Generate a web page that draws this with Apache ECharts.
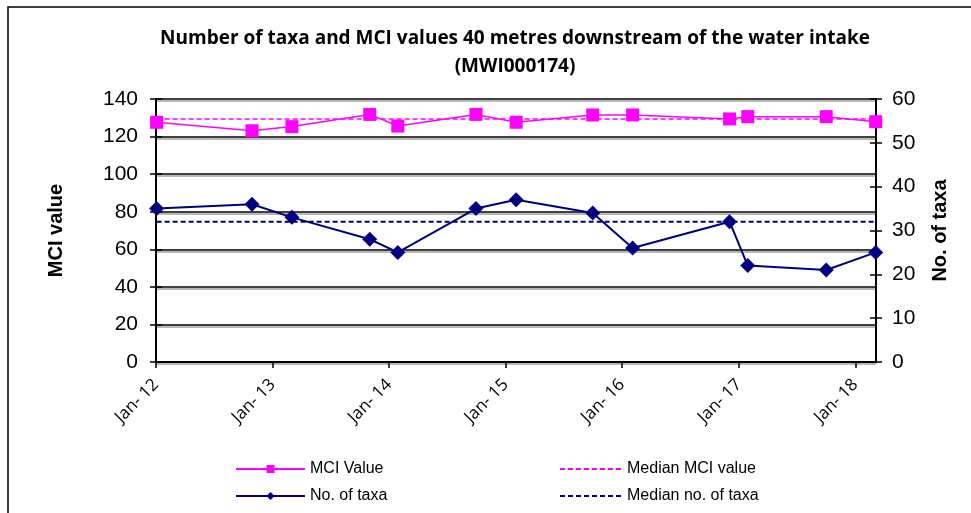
<!DOCTYPE html>
<html>
<head>
<meta charset="utf-8">
<script src="https://cdn.jsdelivr.net/npm/echarts@6/dist/echarts.min.js"></script>
<style>
html,body{margin:0;padding:0;background:#fff;}
#c{width:971px;height:513px;}
</style>
</head>
<body>
<div id="c"></div>
<script>
const sampleDates = ['2012-01-03','2012-10-28','2013-03-02','2013-11-01','2014-01-28','2014-09-30','2015-02-03','2015-10-01','2016-02-03','2016-12-03','2017-01-29','2017-10-02','2018-03-06'];
const mciValues = [127.6,123.1,125.3,131.8,125.6,131.8,127.6,131.5,131.5,129.4,130.6,130.6,127.9];
const taxaValues = [35,36,33,28,25,35,37,34,26,32,22,21,25];
const medianMCI = 129.4;
const medianTaxa = 32;
const mciTicks = [0,20,40,60,80,100,120,140];
const taxaTicks = [0,10,20,30,40,50,60];
const xMin = '2012-01-01';
const xMax = '2018-03-07';

const chart = echarts.init(document.getElementById('c'));
const pair = (vals) => sampleDates.map((d,i)=>[d, vals[i]]);
const constPair = (v) => sampleDates.map(d=>[d, v]);
const tickFont = {fontFamily:'Liberation Sans', fontSize:21, color:'#000'};
const legendText = {fontFamily:'Liberation Sans', fontSize:16, lineHeight:16, color:'#000'};

chart.setOption({
  animation:false,
  backgroundColor:'#fff',
  graphic:[{type:'polyline', shape:{points:[[8,513],[8,7],[971,7]]}, style:{stroke:'#000', lineWidth:1.5, fill:null}}],
  title:{
    text:'Number of taxa and MCI values 40 metres downstream of the water intake\n(MWI000174)',
    left:510, top:20, textAlign:'center',
    textStyle:{fontFamily:'Open Sans', fontWeight:'bold', fontSize:19, lineHeight:28, color:'#000'}
  },
  grid:{left:156, right:95, top:99, bottom:151},
  legend:[
    {data:['MCI Value','No. of taxa'], orient:'vertical', left:230, top:456, itemWidth:69, itemHeight:10, itemGap:11,
     textStyle:legendText},
    {data:[{name:'Median MCI value', itemStyle:{opacity:0}},{name:'Median no. of taxa', itemStyle:{opacity:0}}], orient:'vertical', left:554, top:456, itemWidth:62, itemHeight:10, itemGap:11,
     textStyle:legendText}
  ],
  xAxis:{
    type:'time', min:xMin, max:xMax, splitNumber:6,
    axisLine:{lineStyle:{color:'#000', width:2}},
    axisTick:{show:true, length:6, lineStyle:{color:'#000', width:1.5}},
    splitLine:{show:false},
    axisLabel:{rotate:45, margin:20, fontFamily:'Open Sans', fontSize:17, color:'#000', showMaxLabel:false,
      formatter:(v)=>'Jan- ' + String(new Date(v).getFullYear()).slice(2)}
  },
  yAxis:[
    {type:'value', min:mciTicks[0], max:mciTicks[mciTicks.length-1], interval:20, position:'left',
     name:'MCI value', nameLocation:'middle', nameGap:90, nameRotate:90,
     nameTextStyle:{fontFamily:'Liberation Sans', fontWeight:'bold', fontSize:20, color:'#000'},
     axisLine:{show:true, lineStyle:{color:'#000', width:2}},
     axisTick:{show:true, length:6, lineStyle:{color:'#000', width:1.5}},
     axisLabel:Object.assign({margin:18}, tickFont),
     splitLine:{show:true, lineStyle:{color:'#000', width:1.5, shadowColor:'#a0a0a0', shadowOffsetY:2, shadowBlur:0}}},
    {type:'value', min:taxaTicks[0], max:taxaTicks[taxaTicks.length-1], interval:10, position:'right',
     name:'No. of taxa', nameLocation:'middle', nameGap:54, nameRotate:90,
     nameTextStyle:{fontFamily:'Liberation Sans', fontWeight:'bold', fontSize:20, color:'#000'},
     axisLine:{show:true, lineStyle:{color:'#000', width:2}},
     axisTick:{show:true, length:6, lineStyle:{color:'#000', width:1.5}},
     axisLabel:Object.assign({margin:16}, tickFont),
     splitLine:{show:false}},
    {type:'value', min:0, max:140, interval:20, position:'left', axisLine:{show:false},
     axisTick:{show:true, inside:true, length:6, lineStyle:{color:'#000', width:1.5}}, axisLabel:{show:false}, splitLine:{show:false}},
    {type:'value', min:0, max:60, interval:10, position:'right', axisLine:{show:false},
     axisTick:{show:true, inside:true, length:6, lineStyle:{color:'#000', width:1.5}}, axisLabel:{show:false}, splitLine:{show:false}}
  ],
  series:[
    {name:'Median MCI value', type:'line', yAxisIndex:0, data:constPair(medianMCI), symbol:'none',
     lineStyle:{color:'#ff00ff', width:1.5, type:[5,3]}, itemStyle:{color:'#ff00ff'}, z:2},
    {name:'Median no. of taxa', type:'line', yAxisIndex:1, data:constPair(medianTaxa), symbol:'none',
     lineStyle:{color:'#000080', width:1.8, type:[5,3]}, itemStyle:{color:'#000080'}, z:2},
    {name:'MCI Value', type:'line', yAxisIndex:0, data:pair(mciValues), symbol:'rect', symbolSize:13,
     lineStyle:{color:'#ff00ff', width:1.5}, itemStyle:{color:'#ff00ff'}, z:3},
    {name:'No. of taxa', type:'line', yAxisIndex:1, data:pair(taxaValues), symbol:'diamond', symbolSize:15,
     lineStyle:{color:'#000080', width:2}, itemStyle:{color:'#000080'}, z:3}
  ]
});
</script>
</body>
</html>
